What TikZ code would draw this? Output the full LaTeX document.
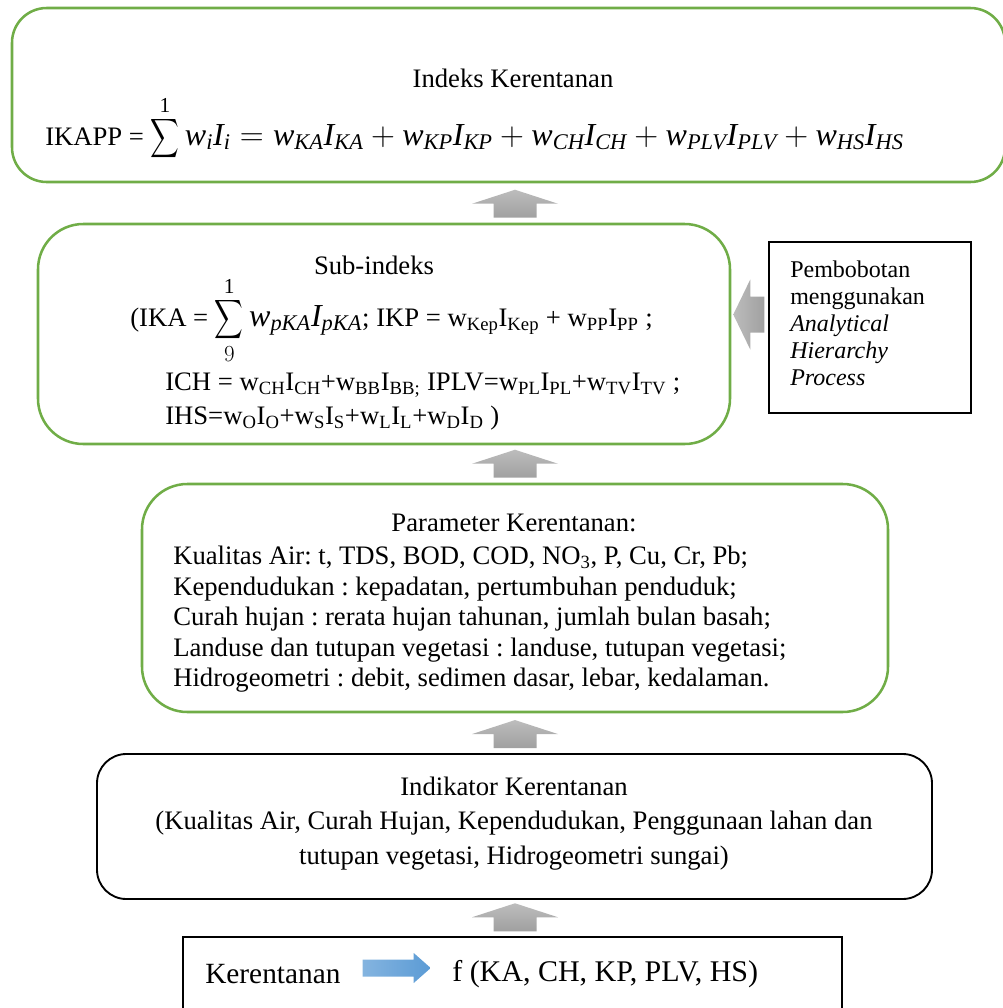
\documentclass[tikz,border=0pt]{standalone}
\usepackage{fontspec}
\usepackage{amsmath}
\usepackage{graphicx}
\setmainfont{Liberation Serif}
\frenchspacing
\usetikzlibrary{calc}

\definecolor{boxgreen}{RGB}{112,173,71}
\definecolor{arrgray}{RGB}{160,160,160}
\definecolor{arrblue}{RGB}{91,155,213}

\newcommand{\pxu}{0.75pt}
\newcommand{\bodyfont}{\fontsize{20}{24}\selectfont}
\newcommand{\mathbig}{\fontsize{24}{28}\selectfont}
\newcommand{\slimsum}{\mathop{\scalebox{0.6}[0.82]{$\displaystyle\sum$}}\limits}
\newcommand{\limnum}[1]{\raisebox{-4pt}{\fontsize{16}{16}\selectfont #1}}
\newcommand{\wIt}[1]{\textit{w}_{\textit{#1}}\textit{I}_{\textit{#1}}}
\newcommand{\wIu}[1]{w\textsubscript{#1}I\textsubscript{#1}}

\tikzset{
  greenbox/.style={draw=boxgreen, line width=1.9pt, rounded corners=30pt, inner sep=0pt},
  blackround/.style={draw=black, line width=1.4pt, rounded corners=22pt, inner sep=0pt},
  plainbox/.style={draw=black, line width=1.1pt, inner sep=0pt},
  txt/.style={inner sep=0pt, font=\bodyfont},
  uparr/.pic={\shade[top color=arrgray!70, bottom color=arrgray] (0,0) -- (43,-14) -- (21.5,-14) -- (21.5,-28) -- (-21.5,-28) -- (-21.5,-14) -- (-43,-14) -- cycle;},
  leftarr/.pic={\shade[left color=arrgray!70, right color=arrgray] (0,0) -- (17,-35) -- (17,-18) -- (31,-18) -- (31,18) -- (17,18) -- (17,35) -- cycle;},
  rightarr/.pic={\shade[left color=arrblue!75, right color=arrblue] (0,-8.5) -- (51,-8.5) -- (51,-15) -- (68,0) -- (51,15) -- (51,8.5) -- (0,8.5) -- cycle;}
}

\begin{document}
\begin{tikzpicture}[x=0.75pt,y=0.75pt,yscale=-1,xscale=1]
\useasboundingbox (0,0) rectangle (1003,1008);

%Shape: boxes
\node (ikbox) [greenbox, rounded corners=26pt, minimum width=993*\pxu, minimum height=174*\pxu] at (508.5,95) {};
\node (sbbox) [greenbox, rounded corners=34pt, minimum width=692*\pxu, minimum height=220*\pxu] at (384,334) {};
\node (ahpbox) [plainbox, minimum width=202*\pxu, minimum height=171*\pxu] at (870,327.5) {};
\node (prbox) [greenbox, rounded corners=34pt, minimum width=746*\pxu, minimum height=228*\pxu] at (515,598) {};
\node (idbox) [blackround, minimum width=835*\pxu, minimum height=145*\pxu] at (514.5,826.5) {};
\node (krbox) [plainbox, minimum width=659*\pxu, minimum height=78*\pxu] at (512.5,976) {};

%Block arrows
\pic at ($(sbbox.north -| prbox.north)+(0,-33)$) {uparr};
\pic at ($(prbox.north)+(0,-33)$) {uparr};
\pic at ($(idbox.north -| prbox.north)+(0,-33)$) {uparr};
\pic at ($(krbox.north -| prbox.north)+(0,-33)$) {uparr};
\pic at ($(ahpbox.west)+(-35,-13)$) {leftarr};

% Text Node
\node (ikttl) [txt] at (513,78) {Indeks Kerentanan};
\node (ikform) [txt, anchor=base west] at (45,145) {IKAPP = {\mathbig$\displaystyle\slimsum^{\limnum{1}}\wIt{i} = \wIt{KA} + \wIt{KP} + \wIt{CH} + \wIt{PLV} + \wIt{HS}$}};

% Text Node
\node (sbttl) [txt] at (374,265) {Sub-indeks};
\node (sbl1) [txt, anchor=base west] at (130,326) {(IKA = {\mathbig$\displaystyle\slimsum_{\fontsize{16}{16}\selectfont 9}^{\limnum{1}}\wIt{pKA}$}; IKP = \wIu{Kep} + \wIu{PP} ;};
\node (sbl2) [txt, anchor=west] at (165,385) {ICH = \wIu{CH}+w\textsubscript{BB}I\textsubscript{BB;} IPLV=\wIu{PL}+\wIu{TV} ;};
\node (sbl3) [txt, anchor=west] at (165,418) {IHS=\wIu{O}+\wIu{S}+\wIu{L}+\wIu{D} )};

% Text Node
\node (ahptxt) [txt, font=\fontsize{18}{20.25}\selectfont, align=left, anchor=north west] at (790,261) {Pembobotan\\menggunakan\\\textit{Analytical}\\\textit{Hierarchy}\\\textit{Process}};

% Text Node
\node (prttl) [txt] at (514,523) {Parameter Kerentanan:};
\node (prlist) [txt, font=\fontsize{20}{22.9}\selectfont, align=left, anchor=north west] at (173,546) {Kualitas Air: t, TDS, BOD, COD, NO\textsubscript{3}, P, Cu, Cr, Pb;\\Kependudukan : kepadatan, pertumbuhan penduduk;\\Curah hujan : rerata hujan tahunan, jumlah bulan basah;\\Landuse dan tutupan vegetasi : landuse, tutupan vegetasi;\\Hidrogeometri : debit, sedimen dasar, lebar, kedalaman.};

% Text Node
\node (idttl) [txt] at (514,786) {Indikator Kerentanan};
\node (idl2) [txt] at (514,823) {(Kualitas Air, Curah Hujan, Kependudukan, Penggunaan lahan dan};
\node (idl3) [txt] at (514,858) {tutupan vegetasi, Hidrogeometri sungai)};

% Text Node
\node (krtxt) [txt, font=\fontsize{22}{26}\selectfont, anchor=west] at (205,974) {Kerentanan};
\node (krfn) [txt, font=\fontsize{22.5}{26}\selectfont, anchor=west] at (452,974) {f (KA, CH, KP, PLV, HS)};
\pic at ($(krtxt.east)+(22,-6)$) {rightarr};

\end{tikzpicture}
\end{document}
